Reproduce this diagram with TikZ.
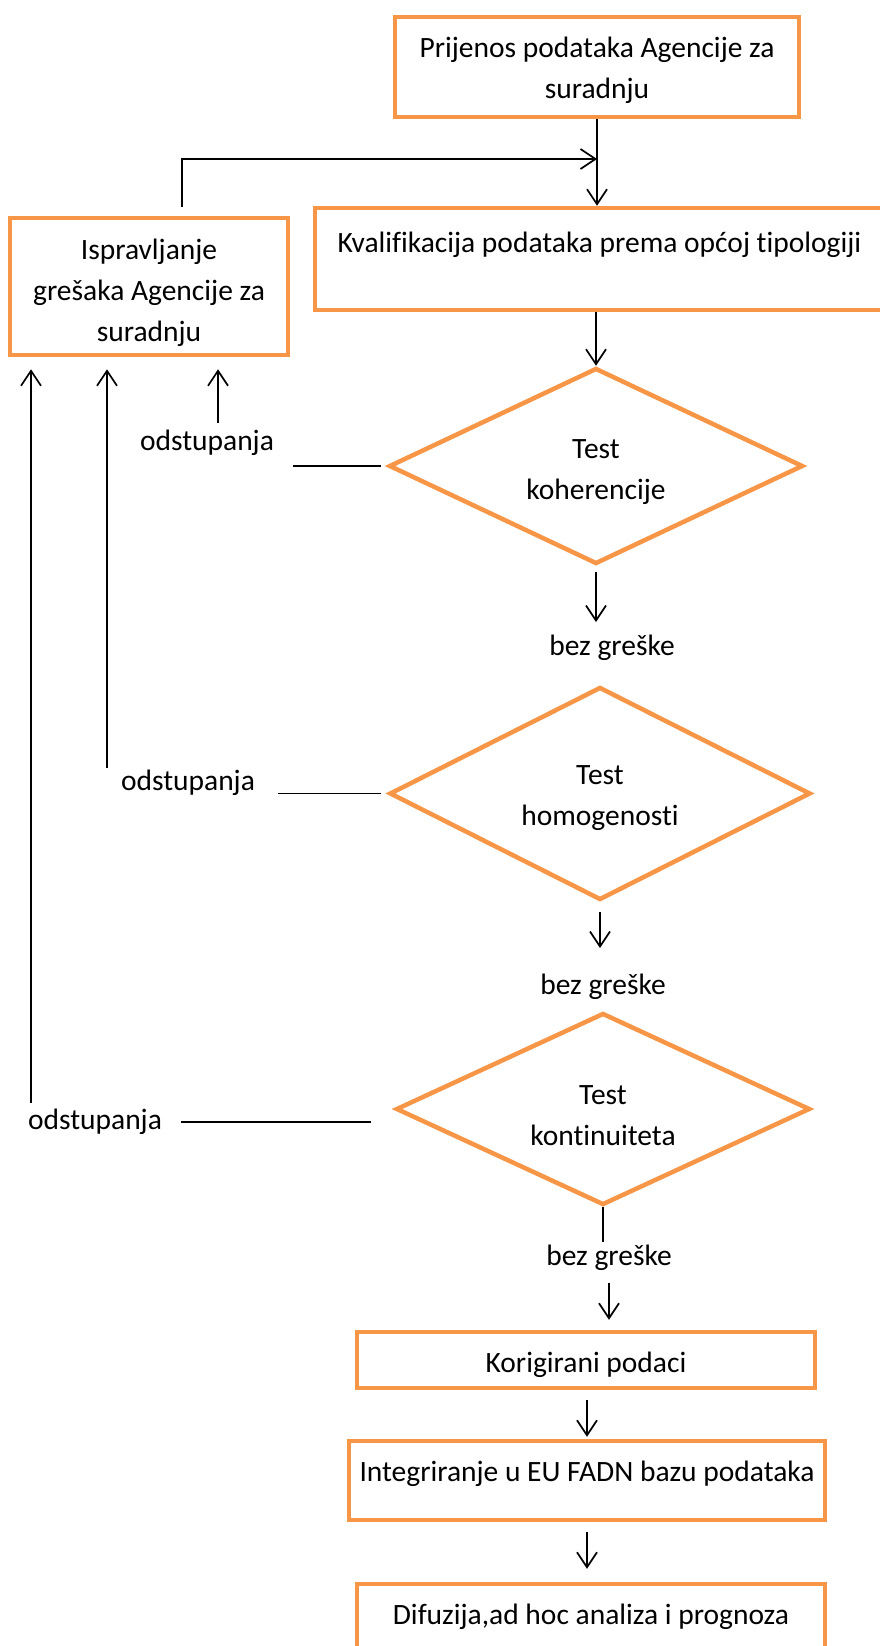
\documentclass[tikz,border=0pt]{standalone}
\usepackage{fontspec}
\setmainfont{Carlito}[Ligatures=NoCommon]
\usetikzlibrary{shapes.geometric,arrows.meta,calc}
\definecolor{orng}{HTML}{F79646}
\begin{document}
\begin{tikzpicture}[x=1pt,y=-1pt,
  font=\fontsize{29.5}{41}\selectfont,
  box/.style={draw=orng,line width=4.5pt,align=center,inner sep=0pt},
  dia/.style={diamond,aspect=2,draw=orng,line width=4.5pt,align=center,inner sep=0pt},
  lbl/.style={inner sep=0pt},
  con/.style={line width=1.7pt},
  arr/.style={con,-{Straight Barb[length=15pt,width=20pt,line width=1.7pt]}}]
\useasboundingbox (0,0) rectangle (880,1646);
% boxes
\node[box,minimum width=404,minimum height=100,text height=68.6pt,text depth=6pt] (b1) at (597,67) {Prijenos podataka Agencije za\\suradnju};
\node[box,minimum width=569,minimum height=102,text height=19pt,text depth=32pt] (b2) at (599.5,259) {Kvalifikacija podataka prema općoj tipologiji};
\node[box,minimum width=278,minimum height=137,text height=116pt,text depth=6pt] (isp) at (149,286.5) {Ispravljanje\\grešaka Agencije za\\suradnju};
% diamonds
\node[dia,minimum width=414,minimum height=196,text height=72.8pt,text depth=6pt] (d1) at (596,466) {Test\\koherencije};
\node[dia,minimum width=421,minimum height=213,text height=69pt,text depth=6pt] (d2) at (600,793.5) {Test\\homogenosti};
\node[dia,minimum width=414,minimum height=192,text height=78pt,text depth=6pt] (d3) at (603,1109) {Test\\kontinuiteta};
% lower boxes
\node[box,minimum width=458,minimum height=56,text height=30pt,text depth=6pt] (kor) at (586,1360) {Korigirani podaci};
\node[box,minimum width=476,minimum height=79,text height=19pt,text depth=18pt] (int) at (587,1480.5) {Integriranje u EU FADN bazu podataka};
\node[box,minimum width=468,minimum height=66] (dif) at (591,1617) {Difuzija,ad hoc analiza i prognoza};
% labels
\node[lbl] (ods1) at (207,443) {odstupanja};
\node[lbl] (ods2) at (188,783) {odstupanja};
\node[lbl] (ods3) at (95,1122) {odstupanja};
\node[lbl] (bez1) at (612,648) {bez greške};
\node[lbl] (bez2) at (603,987) {bez greške};
\node[lbl] (bez3) at (609,1258) {bez greške};
% free ends
\coordinate (fb) at (182,207);
\coordinate (fbj) at (597,159);
\coordinate (u1) at (218,423);
\coordinate (u2) at (107,768);
\coordinate (u3) at (31,1103);
% connectors
\draw[arr] (b1.south) -- (b1.south |- b2.north);
\draw[arr] (fb) |- (fbj);
\draw[arr] (b2.south -| d1.north) -- (d1.north);
\draw[arr,shorten <=6pt,shorten >=13pt] (d1.south) -- (d1.south |- bez1.north);
\draw[arr,shorten <=10pt,shorten >=26pt] (d2.south) -- (d2.south |- bez2.north);
\draw[con,shorten >=3pt] (d3.south) -- (d3.south |- bez3.north);
\draw[arr,shorten <=12pt,shorten >=10pt] (bez3.south) -- (bez3.south |- kor.north);
\draw[arr,shorten <=10pt,shorten >=2pt] (kor.south -| int.north) -- (int.north);
\draw[arr,shorten <=10pt,shorten >=13pt] (int.south) -- (int.south |- dif.north);
% deviation lines
\draw[con,shorten <=6pt,shorten >=19pt] (d1.west) -- (d1.west -| ods1.east);
\draw[con,shorten <=6pt,shorten >=23pt] (d2.west) -- (d2.west -| ods2.east);
\draw[con,shorten <=19pt,shorten >=23pt] (ods3.east) -- (ods3.east -| d3.west);
% up arrows
\draw[arr,shorten >=12pt] (u1) -- (u1 |- isp.south);
\draw[arr,shorten >=12pt] (u2) -- (u2 |- isp.south);
\draw[arr,shorten >=12pt] (u3) -- (u3 |- isp.south);
\end{tikzpicture}
\end{document}
